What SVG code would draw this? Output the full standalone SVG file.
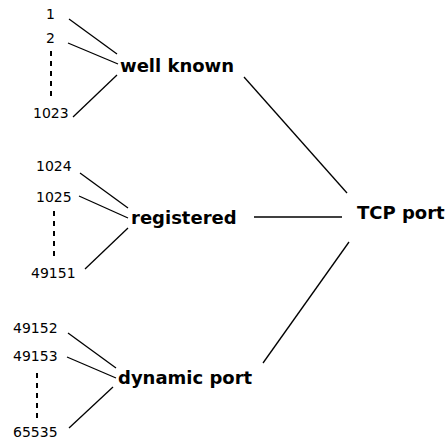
<svg xmlns="http://www.w3.org/2000/svg" width="446" height="441" viewBox="0 0 446 441">
<style>
.num{font-family:"DejaVu Sans",sans-serif;font-size:14px;fill:#000}
.lbl{font-family:"DejaVu Sans",sans-serif;font-size:18px;font-weight:bold;fill:#000}
.ln{stroke:#000;stroke-width:1.3;fill:none}
.dash{stroke:#000;stroke-width:2;stroke-dasharray:5,5;fill:none}
</style>
<rect width="446" height="441" fill="#fff"/>
<g id="n-1"><text class="num" x="46" y="19">1</text></g>
<g id="n-2"><text class="num" x="46" y="43">2</text></g>
<g id="n-1023"><text class="num" x="33" y="118">1023</text></g>
<g id="well-known"><text class="lbl" x="120" y="72">well known</text></g>
<g id="n-1024"><text class="num" x="36" y="171">1024</text></g>
<g id="n-1025"><text class="num" x="36" y="202">1025</text></g>
<g id="n-49151"><text class="num" x="31" y="278">49151</text></g>
<g id="registered"><text class="lbl" x="131" y="224">registered</text></g>
<g id="n-49152"><text class="num" x="13" y="333">49152</text></g>
<g id="n-49153"><text class="num" x="13" y="361">49153</text></g>
<g id="n-65535"><text class="num" x="13" y="437">65535</text></g>
<g id="dynamic-port"><text class="lbl" x="118" y="384">dynamic port</text></g>
<g id="tcp-port"><text class="lbl" x="357" y="219">TCP port</text></g>
<g id="connectors">
<line class="ln" x1="69" y1="19" x2="117" y2="54"/>
<line class="ln" x1="68" y1="43" x2="118" y2="64"/>
<line class="ln" x1="117" y1="75" x2="73" y2="117"/>
<line class="dash" x1="51" y1="51" x2="51" y2="97"/>
<line class="ln" x1="80" y1="173" x2="128" y2="208"/>
<line class="ln" x1="79" y1="196" x2="128" y2="218"/>
<line class="ln" x1="128" y1="228" x2="85" y2="269"/>
<line class="dash" x1="54" y1="211" x2="54" y2="257"/>
<line class="ln" x1="68" y1="333" x2="116" y2="368"/>
<line class="ln" x1="67" y1="357" x2="116" y2="378"/>
<line class="ln" x1="113" y1="387" x2="69" y2="428"/>
<line class="dash" x1="37" y1="373" x2="37" y2="418"/>
<line class="ln" x1="244" y1="77" x2="347" y2="193"/>
<line class="ln" x1="254" y1="217" x2="342" y2="217"/>
<line class="ln" x1="349" y1="242" x2="263" y2="363"/>
</g>
</svg>
